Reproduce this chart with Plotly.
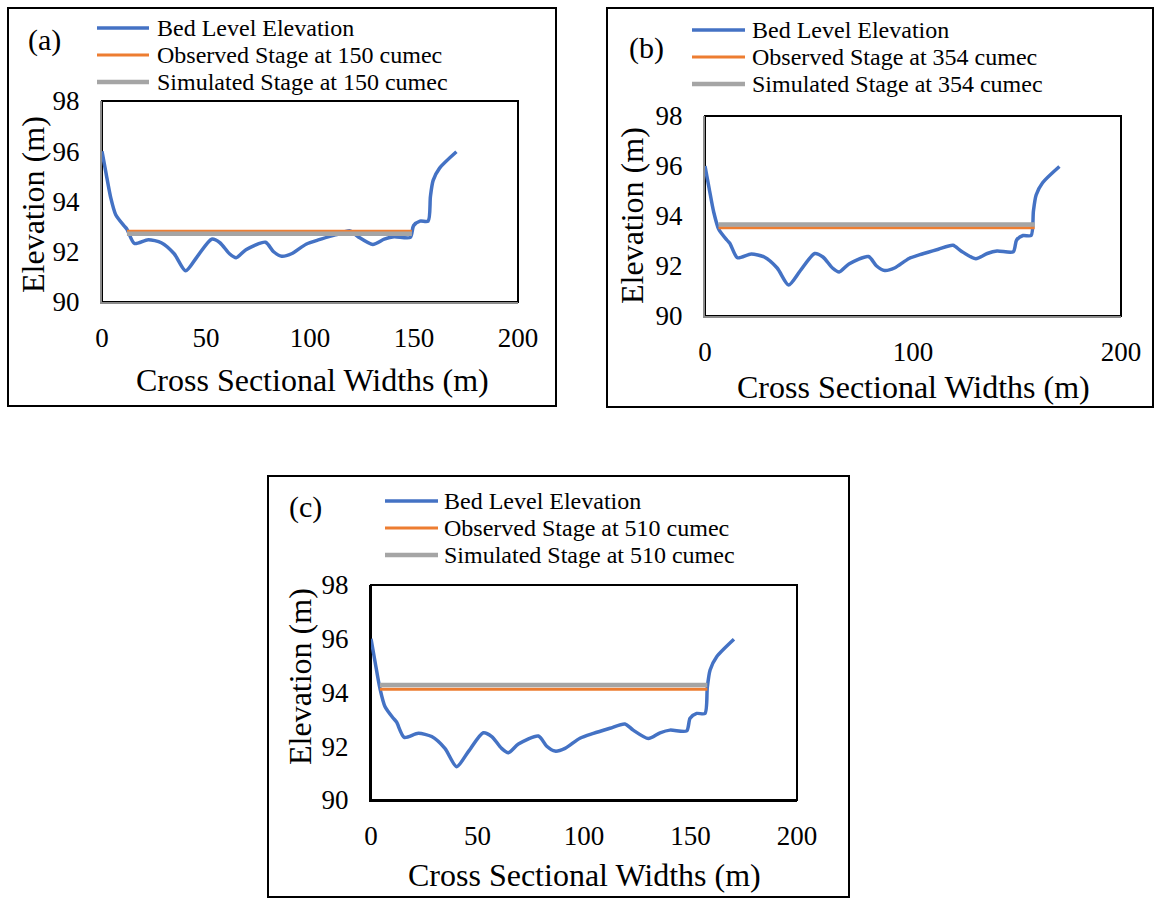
import plotly.graph_objects as go

W, H = 1156, 900

# Surveyed bed profile across the channel
bed_x = [0, 2, 4.2, 6.6, 10.5, 12, 15.6, 22.2, 28.5, 34.7, 40.2, 45.7, 52.7, 56.7,
         61.3, 64.5, 69.2, 78.6, 82.5, 86.4, 91.1, 98.1, 104.4, 112.2, 119.2, 123.1,
         130.2, 135.7, 140.4, 148.2, 149.8, 152.9, 156.8, 157.9, 159.2, 162.3, 170.4]
bed_z = [96.0, 95.1, 94.15, 93.47, 93.04, 92.9, 92.33, 92.48, 92.36, 91.92, 91.24, 91.8,
         92.5, 92.36, 91.92, 91.76, 92.08, 92.38, 92.0, 91.82, 91.92, 92.3, 92.48, 92.67,
         92.83, 92.6, 92.29, 92.5, 92.6, 92.57, 93.04, 93.22, 93.22, 94.2, 94.84, 95.33,
         95.98]

# Water surface across the wetted width for each discharge
discharges = ["150", "354", "510"]
panel_tags = ["(a)", "(b)", "(c)"]
stage_x = [[12, 149], [6.5, 158.5], [4.2, 157.9]]
observed_stage = [92.82, 93.53, 94.12]
simulated_stage = [92.72, 93.66, 94.28]
x_ticks = [[0, 50, 100, 150, 200], [0, 100, 200], [0, 50, 100, 150, 200]]
y_ticks = [90, 92, 94, 96, 98]

BLUE, ORANGE, GREY = "#4472C4", "#ED7D31", "#A5A5A5"
FONT = "Liberation Serif"

# pixel layout of each panel
plot_px = [(102, 518, 101, 302), (705, 1121, 116, 316), (371, 797, 585, 800)]
frame_px = [(8, 556, 8, 406), (607, 1153, 8, 407), (268, 849, 476, 897)]
axis_colour = ["#8c8c8c", "#8c8c8c", "black"]
tag_px = [(44, 40), (646, 48), (305, 507)]
# legend: sample start, sample end, text start, first row y, row step
legend_px = [(97, 149, 155, 28, 27), (692, 745, 750, 30, 27), (385, 438, 442, 501, 27)]
ytitle_px = [(33, 205), (632, 216), (300, 677)]
xtitle_px = [(312, 380), (913, 387), (584, 875)]


def fx(p):
    return p / W


def fy(p):
    return 1 - p / H


fig = go.Figure()
shapes, annotations = [], []
layout_axes = {}

for i in range(3):
    sfx = "" if i == 0 else str(i + 1)
    xa, ya = "x" + sfx, "y" + sfx
    q = discharges[i]
    names = ["Bed Level Elevation",
             f"Observed Stage at {q} cumec",
             f"Simulated Stage at {q} cumec"]
    colours = [BLUE, ORANGE, GREY]
    widths = [3.5, 3, 4.5]

    fig.add_trace(go.Scatter(
        x=bed_x, y=bed_z, mode="lines", name=names[0], showlegend=False,
        line=dict(color=BLUE, width=3.5, shape="spline", smoothing=0.7),
        xaxis=xa, yaxis=ya))
    fig.add_trace(go.Scatter(
        x=stage_x[i], y=[observed_stage[i]] * 2, mode="lines", name=names[1],
        showlegend=False, line=dict(color=ORANGE, width=3), xaxis=xa, yaxis=ya))
    fig.add_trace(go.Scatter(
        x=stage_x[i], y=[simulated_stage[i]] * 2, mode="lines", name=names[2],
        showlegend=False, line=dict(color=GREY, width=4.5), xaxis=xa, yaxis=ya))

    x0, x1, y0, y1 = plot_px[i]
    ac = axis_colour[i]
    layout_axes["xaxis" + sfx] = dict(
        domain=[fx(x0), fx(x1)], range=[0, 200], tickvals=x_ticks[i],
        anchor=ya, showgrid=False, zeroline=False, showline=True,
        linecolor=ac, linewidth=2, ticks="", ticklabelstandoff=11,
        tickfont=dict(family=FONT, size=27, color="black"), fixedrange=True)
    layout_axes["yaxis" + sfx] = dict(
        domain=[fy(y1), fy(y0)], range=[90, 98], tickvals=y_ticks,
        anchor=xa, showgrid=False, zeroline=False, showline=True,
        linecolor=ac, linewidth=2, ticks="", ticklabelstandoff=15,
        tickfont=dict(family=FONT, size=27, color="black"), fixedrange=True)

    # plot-area border
    shapes.append(dict(type="rect", xref="paper", yref="paper",
                       x0=fx(x0), x1=fx(x1), y0=fy(y1), y1=fy(y0),
                       line=dict(color="black", width=2), layer="below"))
    # panel frame
    fx0, fx1, fy0, fy1 = frame_px[i]
    shapes.append(dict(type="rect", xref="paper", yref="paper",
                       x0=fx(fx0), x1=fx(fx1), y0=fy(fy1), y1=fy(fy0),
                       line=dict(color="black", width=2), layer="below"))

    # legend rows
    s0, s1, tx0, r0, step = legend_px[i]
    for k in range(3):
        ry = r0 + k * step
        shapes.append(dict(type="line", xref="paper", yref="paper",
                           x0=fx(s0), x1=fx(s1), y0=fy(ry), y1=fy(ry),
                           line=dict(color=colours[k], width=widths[k])))
        annotations.append(dict(text=names[k], x=fx(tx0), y=fy(ry), xref="paper",
                                yref="paper", xanchor="left", yanchor="middle",
                                showarrow=False,
                                font=dict(family=FONT, size=24, color="black")))

    tx, ty = tag_px[i]
    annotations.append(dict(text=panel_tags[i], x=fx(tx), y=fy(ty), xref="paper",
                            yref="paper", xanchor="center", yanchor="middle",
                            showarrow=False,
                            font=dict(family=FONT, size=30, color="black")))
    ax, ay = ytitle_px[i]
    annotations.append(dict(text="Elevation (m)", x=fx(ax), y=fy(ay), xref="paper",
                            yref="paper", xanchor="center", yanchor="middle",
                            showarrow=False, textangle=-90,
                            font=dict(family=FONT, size=32, color="black")))
    bx, by = xtitle_px[i]
    annotations.append(dict(text="Cross Sectional Widths (m)", x=fx(bx), y=fy(by),
                            xref="paper", yref="paper", xanchor="center",
                            yanchor="middle", showarrow=False,
                            font=dict(family=FONT, size=32, color="black")))

fig.update_layout(
    width=W, height=H, autosize=False,
    margin=dict(l=0, r=0, t=0, b=0, pad=0, autoexpand=False),
    paper_bgcolor="white", plot_bgcolor="white", showlegend=False,
    shapes=shapes, annotations=annotations,
    **layout_axes)

fig.write_html("out.html")
